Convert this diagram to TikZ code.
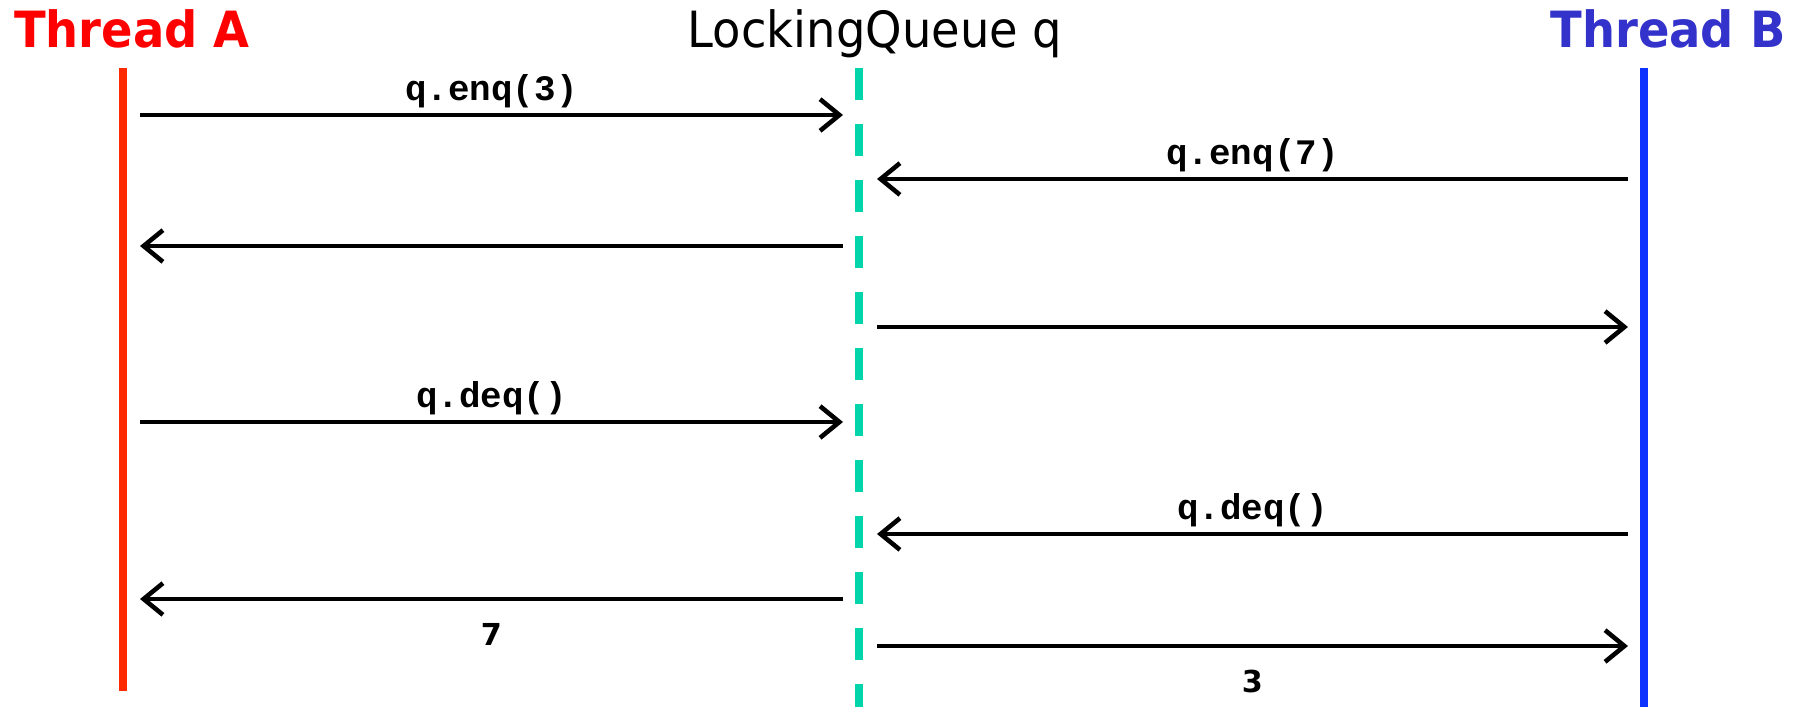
\documentclass[tikz,border=0pt]{standalone}
\usepackage{fontspec}
\usetikzlibrary{arrows.meta}
\setmainfont{DejaVu Sans}
\newfontfamily\headfont[FakeStretch=0.93]{DejaVu Sans}
\newfontfamily\codefont{Liberation Mono}
\definecolor{myred}{HTML}{FF0000}
\definecolor{myorange}{HTML}{FF2A00}
\definecolor{myindigo}{HTML}{3333CC}
\definecolor{myblue}{HTML}{0F33FF}
\definecolor{mygreen}{HTML}{00D4AA}

\begin{document}
\begin{tikzpicture}[
  lifeline/.style={line width=2.4pt},
  msg/.style={line width=1.3pt, -{Straight Barb[length=5.5pt, width=9pt]}},
  call/.style={font=\codefont\bfseries\fontsize{10.2}{12}\selectfont, anchor=base, yshift=0.15cm},
  reply/.style={font=\bfseries\fontsize{8.6}{10}\selectfont, yshift=-0.35cm},
  head/.style={font=\headfont\fontsize{14.2}{17}\selectfont, anchor=base}
]
\useasboundingbox (0,0) rectangle (18,-7.07);

% HEADINGS
\node[head, myred] (threadA) at (1.32,-0.47) {\bfseries Thread A};
\node[head] (queue) at (8.75,-0.47) {LockingQueue q};
\node[head, myindigo] (threadB) at (16.68,-0.47) {\bfseries Thread B};

% LIFELINES
\coordinate (atop) at (1.23,-0.68);
\coordinate (abot) at (1.23,-6.91);
\coordinate (qtop) at (8.59,-0.68);
\coordinate (qbot) at (8.59,-7.07);
\coordinate (btop) at (16.44,-0.68);
\coordinate (bbot) at (16.44,-7.07);
\draw[lifeline, myorange] (atop) -- (abot);
\draw[lifeline, mygreen, dash pattern=on 0.32cm off 0.24cm] (qtop) -- (qbot);
\draw[lifeline, myblue] (btop) -- (bbot);

% ANCHORS ON THE LIFELINES
\foreach \n/\y in {1/1.15,2/1.79,3/2.46,4/3.27,5/4.22,6/5.34,7/5.99,8/6.46} {
  \coordinate (a\n) at (1.40,-\y);
  \coordinate (ql\n) at (8.43,-\y);
  \coordinate (qr\n) at (8.77,-\y);
  \coordinate (b\n) at (16.28,-\y);
}

% MESSAGES
\draw[msg] (a1) -- node[call] {q.enq(3)} (ql1);
\draw[msg] (b2) -- node[call] {q.enq(7)} (qr2);
\draw[msg] (ql3) -- (a3);
\draw[msg] (qr4) -- (b4);
\draw[msg] (a5) -- node[call] {q.deq()} (ql5);
\draw[msg] (b6) -- node[call] {q.deq()} (qr6);
\draw[msg] (ql7) -- node[reply] {7} (a7);
\draw[msg] (qr8) -- node[reply] {3} (b8);

\end{tikzpicture}
\end{document}
